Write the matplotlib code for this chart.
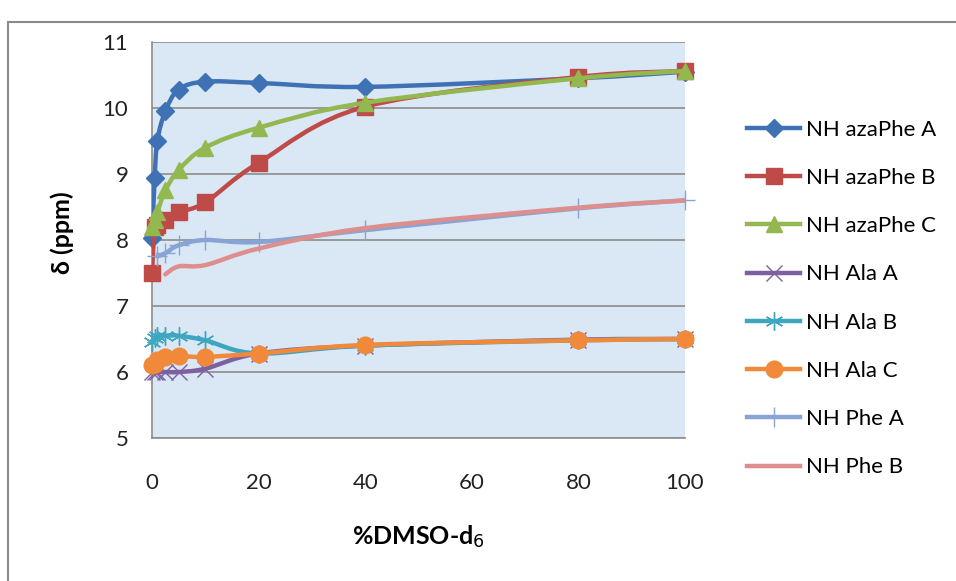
import numpy as np
import matplotlib
matplotlib.use("Agg")
import matplotlib.pyplot as plt
from matplotlib.path import Path
from matplotlib.patches import PathPatch, Rectangle
from matplotlib.lines import Line2D

plt.rcParams['font.family'] = ['Lato', 'DejaVu Sans']
plt.rcParams['mathtext.fontset'] = 'custom'
plt.rcParams['mathtext.it'] = 'Lato:italic:bold'

# % DMSO-d6
dmso = [0, 0.5, 1, 2.5, 5, 10, 20, 40, 80, 100]

aza_a = [8.03, 8.94, 9.5, 9.95, 10.28, 10.4, 10.38, 10.32, 10.45, 10.55]
aza_b = [7.5, 8.2, 8.22, 8.3, 8.42, 8.57, 9.17, 10.02, 10.47, 10.56]
aza_c = [8.2, 8.3, 8.42, 8.75, 9.06, 9.4, 9.7, 10.08, 10.45, 10.56]
ala_a = [6.0, 6.0, 6.0, 6.0, 6.0, 6.05, 6.28, 6.4, 6.49, 6.5]
ala_b = [6.46, 6.52, 6.55, 6.55, 6.55, 6.48, 6.28, 6.4, 6.48, 6.5]
ala_c = [6.1, 6.12, 6.18, 6.22, 6.24, 6.23, 6.28, 6.41, 6.48, 6.5]
phe_a_x = [1, 2.5, 5, 10, 20, 40, 80, 100]
phe_a = [7.75, 7.8, 7.92, 8.0, 7.97, 8.15, 8.48, 8.6]
phe_b_x = [2.5, 5, 10, 20, 40, 80, 100]
phe_b = [7.48, 7.6, 7.62, 7.87, 8.18, 8.49, 8.6]

names = ['NH azaPhe A', 'NH azaPhe B', 'NH azaPhe C', 'NH Ala A',
         'NH Ala B', 'NH Ala C', 'NH Phe A', 'NH Phe B']


def smooth(x, y):
    # excel style smoothed line (catmull-rom as cubic bezier)
    pts = np.column_stack([x, y]).astype(float)
    n = len(pts)
    verts = [pts[0]]
    codes = [Path.MOVETO]
    for i in range(n - 1):
        p0 = pts[max(i - 1, 0)]
        p1 = pts[i]
        p2 = pts[i + 1]
        p3 = pts[min(i + 2, n - 1)]
        verts += [p1 + (p2 - p0) / 6, p2 - (p3 - p1) / 6, p2]
        codes += [Path.CURVE4] * 3
    return Path(verts, codes)


series = [
    (dmso, aza_a, '#3f72b5', 'D', 9.5, None),
    (dmso, aza_b, '#be4b48', 's', 12, None),
    (dmso, aza_c, '#93b84f', '^', 12, None),
    (dmso, ala_a, '#7d60a0', 'x', 11, 1.0),
    (dmso, ala_b, '#3fa6c0', (6, 2, 0), 13, 1.0),
    (dmso, ala_c, '#f08a3a', 'o', 12, None),
    (phe_a_x, phe_a, '#87a4d4', '+', 14, 1.0),
    (phe_b_x, phe_b, '#dd8f8e', None, 0, None),
]

fig = plt.figure(figsize=(9.56, 5.81), dpi=100)
fig.add_artist(Rectangle((8 / 956, -0.05), 1.0, 1 - 22 / 581 + 0.05,
                         transform=fig.transFigure, fill=False,
                         edgecolor='#8a8a8a', lw=1.5))

ax = fig.add_axes([152 / 956, 1 - 438 / 581, 533 / 956, 396 / 581])
ax.set_facecolor('#dae7f5')
ax.set_xlim(0, 100)
ax.set_ylim(5, 11)
ax.set_xticks([0, 20, 40, 60, 80, 100])
ax.set_yticks([5, 6, 7, 8, 9, 10, 11])
ax.grid(axis='y', color='#8c8c8c', lw=1.2)
ax.set_axisbelow(True)
for s in ['top', 'right']:
    ax.spines[s].set_visible(False)
for s in ['left', 'bottom']:
    ax.spines[s].set_color('#8c8c8c')
    ax.spines[s].set_linewidth(1.2)
ax.tick_params(axis='both', length=0, labelsize=16, colors='#222222')
ax.tick_params(axis='y', pad=17)
ax.tick_params(axis='x', pad=25)

handles = []
for i, (x, y, c, m, ms, mew) in enumerate(series):
    ax.add_patch(PathPatch(smooth(x, y), fill=False, edgecolor=c, lw=3.2,
                           capstyle='round', joinstyle='round', zorder=3 + i))
    if m is not None:
        kw = dict(markeredgewidth=mew, markeredgecolor=c) if mew else dict(markeredgecolor=c)
        ax.plot(x, y, ls='none', marker=m, ms=ms, color=c, clip_on=False,
                zorder=3 + i, **kw)
    h = Line2D([], [], color=c, lw=3.2, marker=m, ms=ms,
               markeredgewidth=mew if mew else 1.0, markeredgecolor=c)
    handles.append(h)

ax.set_ylabel('δ (ppm)', fontsize=18, fontweight='bold')
ax.yaxis.set_label_coords(-0.169, 0.518)
ax.yaxis.label.set_verticalalignment('center')
ax.set_xlabel(r'%DMSO-d$_\mathit{6}$', fontsize=18, fontweight='bold')
ax.xaxis.set_label_coords(0.5, -0.25)
ax.xaxis.label.set_verticalalignment('center')

fig.legend(handles, names, loc='center left',
           bbox_to_anchor=(747 / 956, 1 - 298.5 / 581), frameon=False,
           fontsize=16, handlelength=2.4, handletextpad=0.27,
           labelspacing=1.27, borderpad=0, borderaxespad=0)

fig.savefig('out.png', dpi=100)
